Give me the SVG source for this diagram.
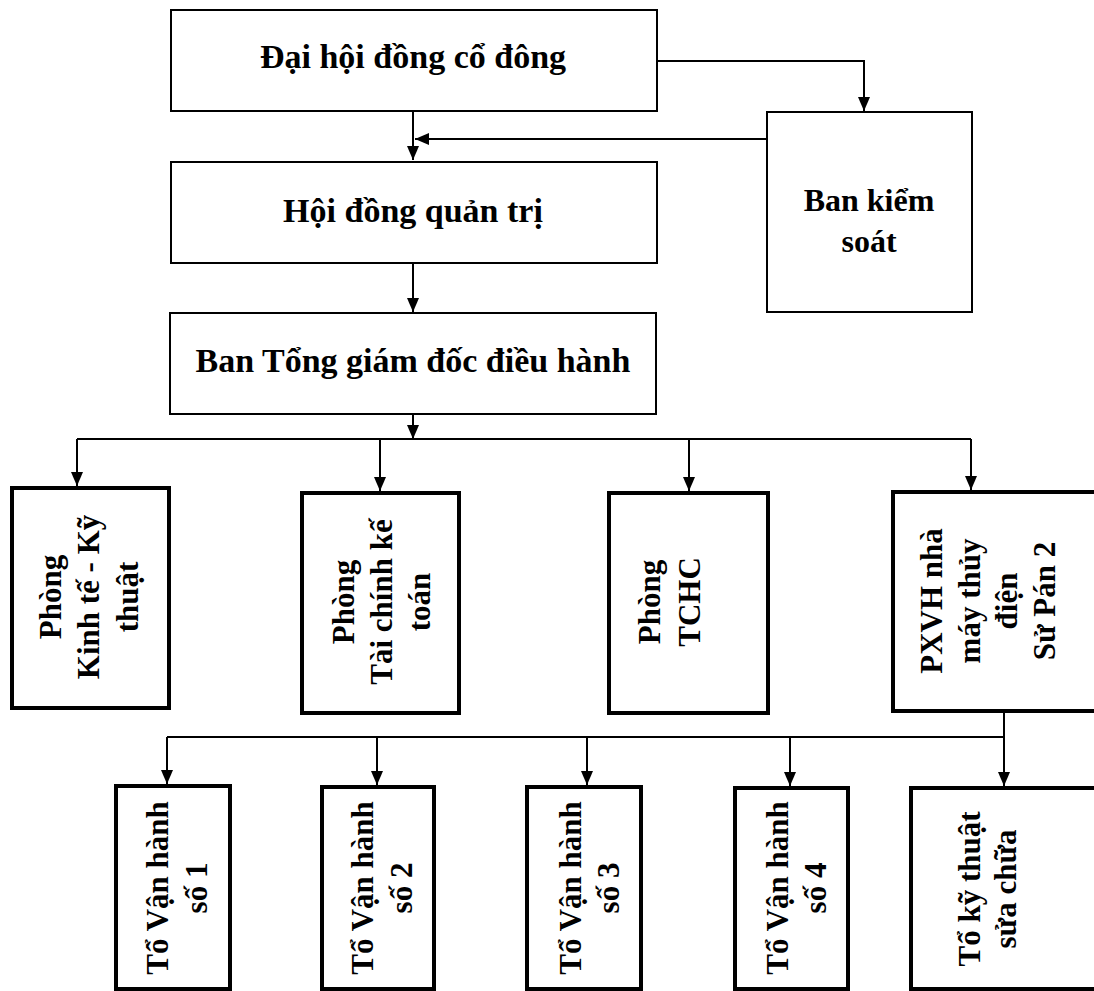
<svg xmlns="http://www.w3.org/2000/svg" width="1094" height="991" viewBox="0 0 1094 991">
<style>
.bg{fill:#fff}
.thin{fill:#fff;stroke:#000;stroke-width:2}
.thick{fill:#fff;stroke:#000;stroke-width:4}
.t{font-family:"Liberation Serif","Times New Roman",serif;font-weight:bold;fill:#000;text-anchor:middle}
.top{font-size:34px}
.ks{font-size:32px}
.rot{font-size:31px}
.c{fill:none;stroke:#000;stroke-width:2}
</style>
<defs>
<marker id="arr" viewBox="0 0 14 12" refX="14" refY="6" markerWidth="14" markerHeight="12" markerUnits="userSpaceOnUse" orient="auto">
<path d="M0,0 L14,6 L0,12 z" fill="#000"/>
</marker>
</defs>
<rect class="bg" x="0" y="0" width="1094" height="991"/>

<g id="connectors">
<path class="c" d="M657,61 H864 V111" marker-end="url(#arr)"/>
<path class="c" d="M413,111 V160" marker-end="url(#arr)"/>
<path class="c" d="M767,139 H415" marker-end="url(#arr)"/>
<path class="c" d="M413,263 V312" marker-end="url(#arr)"/>
<path class="c" d="M413,414 V439" marker-end="url(#arr)"/>
<path class="c" d="M77,439 H971"/>
<path class="c" d="M77,439 V486" marker-end="url(#arr)"/>
<path class="c" d="M380,439 V491" marker-end="url(#arr)"/>
<path class="c" d="M689,439 V491" marker-end="url(#arr)"/>
<path class="c" d="M971,439 V490" marker-end="url(#arr)"/>
<path class="c" d="M1004,711 V786" marker-end="url(#arr)"/>
<path class="c" d="M167,737 H1004"/>
<path class="c" d="M167,737 V784" marker-end="url(#arr)"/>
<path class="c" d="M377,737 V785" marker-end="url(#arr)"/>
<path class="c" d="M587,737 V785" marker-end="url(#arr)"/>
<path class="c" d="M790,737 V786" marker-end="url(#arr)"/>
</g>

<g id="dhdcd">
<rect class="thin" x="171" y="10" width="486" height="101"/>
<text class="t top" x="413" y="68">Đại hội đồng cổ đông</text>
</g>
<g id="hdqt">
<rect class="thin" x="171" y="162" width="486" height="101"/>
<text class="t top" x="413" y="222">Hội đồng quản trị</text>
</g>
<g id="btgd">
<rect class="thin" x="170" y="313" width="486" height="101"/>
<text class="t top" x="413" y="372">Ban Tổng giám đốc điều hành</text>
</g>
<g id="bks">
<rect class="thin" x="767" y="112" width="205" height="200"/>
<text class="t ks" x="869" y="211">Ban kiểm</text>
<text class="t ks" x="869" y="252">soát</text>
</g>

<g id="pktkt">
<rect class="thick" x="12" y="488" width="157" height="220"/>
<text class="t rot" transform="translate(90,597) rotate(-90)"><tspan x="0" y="-29">Phòng</tspan><tspan x="0" y="9">Kinh tế - Kỹ</tspan><tspan x="0" y="48">thuật</tspan></text>
</g>
<g id="ptckt">
<rect class="thick" x="302" y="493" width="157" height="220"/>
<text class="t rot" transform="translate(381,602) rotate(-90)"><tspan x="0" y="-27">Phòng</tspan><tspan x="0" y="11">Tài chính kế</tspan><tspan x="0" y="49">toán</tspan></text>
</g>
<g id="ptchc">
<rect class="thick" x="609" y="493" width="159" height="220"/>
<text class="t rot" transform="translate(689,602) rotate(-90)"><tspan x="0" y="-29">Phòng</tspan><tspan x="0" y="11">TCHC</tspan></text>
</g>
<g id="pxvh">
<rect class="thick" x="893" y="492" width="210" height="219"/>
<text class="t rot" transform="translate(988,601) rotate(-90)"><tspan x="0" y="-46">PXVH nhà</tspan><tspan x="0" y="-8">máy thủy</tspan><tspan x="0" y="29">điện</tspan><tspan x="0" y="67">Sử Pán 2</tspan></text>
</g>

<g id="tvh1">
<rect class="thick" x="116" y="786" width="114" height="203"/>
<text class="t rot" transform="translate(173,888) rotate(-90)"><tspan x="0" y="-5">Tổ Vận hành</tspan><tspan x="0" y="34">số 1</tspan></text>
</g>
<g id="tvh2">
<rect class="thick" x="322" y="787" width="112" height="202"/>
<text class="t rot" transform="translate(378,888) rotate(-90)"><tspan x="0" y="-5">Tổ Vận hành</tspan><tspan x="0" y="34">số 2</tspan></text>
</g>
<g id="tvh3">
<rect class="thick" x="527" y="787" width="114" height="202"/>
<text class="t rot" transform="translate(584,888) rotate(-90)"><tspan x="0" y="-3">Tổ Vận hành</tspan><tspan x="0" y="35">số 3</tspan></text>
</g>
<g id="tvh4">
<rect class="thick" x="735" y="788" width="113" height="201"/>
<text class="t rot" transform="translate(791,888) rotate(-90)"><tspan x="0" y="-3">Tổ Vận hành</tspan><tspan x="0" y="35">số 4</tspan></text>
</g>
<g id="tktsc">
<rect class="thick" x="911" y="788" width="192" height="201"/>
<text class="t rot" transform="translate(998,889) rotate(-90)"><tspan x="0" y="-18">Tổ kỹ thuật</tspan><tspan x="0" y="18">sửa chữa</tspan></text>
</g>
</svg>
